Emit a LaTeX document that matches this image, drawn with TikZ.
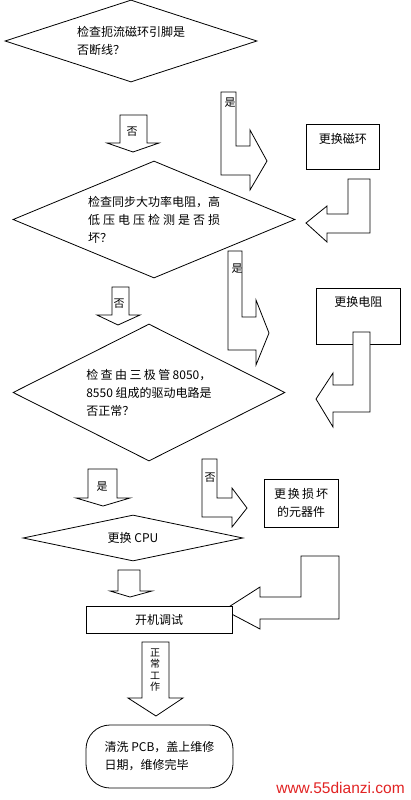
\documentclass[tikz,border=0pt]{standalone}
\usepackage{fontspec}
\setmainfont{Noto Sans CJK SC}
\newfontfamily\webfont{Liberation Sans}
\usetikzlibrary{shapes.geometric}
\definecolor{markred}{RGB}{225,35,35}

\begin{document}
\begin{tikzpicture}[
        x=1pt, y=-1pt,
        font=\fontsize{12}{18}\selectfont,
        test/.style={diamond, draw=black, fill=white, line width=0.8pt, inner sep=0pt, align=left},
        block/.style={rectangle, draw=black, fill=white, line width=0.8pt, inner sep=0pt, align=center},
        stop/.style={rectangle, draw=black, fill=white, line width=0.8pt, inner sep=0pt, rounded corners=24pt, align=left},
        fat/.style={draw=black, fill=white, line width=0.8pt, line join=miter},
        tag/.style={inner sep=0pt, font=\fontsize{11}{11}\selectfont}
    ]
        \useasboundingbox (0,0) rectangle (410,800);

        % Nodes
        \node (ringtest) at (131,41) [test, minimum width=252pt, minimum height=82pt, aspect=3] {检查扼流磁环引脚是\\否断线？};
        \node (restest) at (154,219.5) [test, minimum width=282pt, minimum height=117pt, aspect=2.4] {检查同步大功率电阻，高\\\makebox[132pt][s]{低 压 电 压 检 测 是 否 损}\\坏？};
        \node (drvtest) at (149,392.5) [test, minimum width=272pt, minimum height=137pt, aspect=2] {\makebox[125pt][s]{检 查 由 三 极 管 8050，}\\8550 组成的驱动电路是\\否正常？};
        \node (cpu) at (133,538) [test, minimum width=220pt, minimum height=46pt, aspect=4.8] {更换 CPU};

        \node (newring) at (306,124) [block, anchor=north west, minimum width=73pt, minimum height=45pt, text height=19pt, text depth=26pt] {更换磁环};
        \node (newres) at (316,288) [block, anchor=north west, minimum width=84pt, minimum height=56pt, text height=18.5pt, text depth=37.5pt] {更换电阻};
        \node (newpart) at (301,503) [block, minimum width=74pt, minimum height=48pt] {\makebox[54pt][s]{更 换 损 坏}\\的元器件};
        \node (done) at (159.5,756.5) [stop, minimum width=147pt, minimum height=63pt] {清洗 PCB，盖上维修\\日期，维修完毕};
        \node (site) at (340.5,788) [font=\webfont\fontsize{15.5}{15.5}\selectfont, text=markred, inner sep=0pt] {www.55dianzi.com};

        % Arrows
        \draw[fat] (221,92) -- (236,92) -- (236,146) -- (250,146) -- (250,130) -- (267,161) -- (250,190) -- (250,175) -- (221,175) -- cycle;
        \node (yes1) at (230,103) [tag] {是};
        \draw[fat] (120,115) -- (147,115) -- (147,143) -- (159,143) -- (133,152) -- (107,143) -- (120,143) -- cycle;
        \node (no1) at (132,132) [tag] {否};
        \draw[fat] (348,179) -- (370,179) -- (370,233) -- (327,233) -- (327,242) -- (306,223) -- (327,206) -- (327,214) -- (348,214) -- cycle;

        \draw[fat] (228,251) -- (242,251) -- (242,317) -- (256,317) -- (256,300) -- (269,333) -- (256,365) -- (256,350) -- (228,350) -- cycle;
        \node (yes2) at (237,269) [tag] {是};
        \draw[fat] (112,287) -- (129,287) -- (129,315) -- (140,315) -- (118,325) -- (97,315) -- (112,315) -- cycle;
        \node (no2) at (119,304) [tag] {否};
        \draw[fat] (353,332) -- (370,332) -- (370,412) -- (333,412) -- (333,427) -- (316,399) -- (333,373) -- (333,385) -- (353,385) -- cycle;

        \draw[fat] (88,469) -- (117,469) -- (117,498) -- (130,498) -- (103,506) -- (76,498) -- (88,498) -- cycle;
        \node (yes3) at (102,487) [tag] {是};
        \draw[fat] (202,459) -- (217,459) -- (217,498) -- (232,498) -- (232,488) -- (247,508) -- (232,527) -- (232,517) -- (202,517) -- cycle;
        \node (no3) at (210,478) [tag] {否};

        \draw[fat] (118,570) -- (140,570) -- (140,591) -- (152,591) -- (130,597) -- (110,591) -- (118,591) -- cycle;
        \draw[fat] (301,556) -- (339,556) -- (339,619) -- (260,619) -- (260,629) -- (224,610) -- (260,587) -- (260,597) -- (301,597) -- cycle;
        % box goes over the tip of the big arrow
        \node (power) at (159,619.5) [block, minimum width=146pt, minimum height=27pt] {开机调试};

        \draw[fat] (142,642) -- (169,642) -- (169,698) -- (183,698) -- (156,716) -- (128,698) -- (142,698) -- cycle;
        \node (ok) at (155,670) [tag, align=center, font=\fontsize{10}{11.5}\selectfont] {正\\常\\工\\作};

    \end{tikzpicture}
\end{document}
